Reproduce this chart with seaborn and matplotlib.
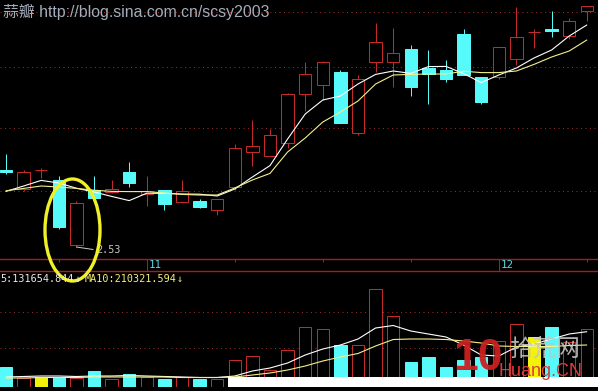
import numpy as np
import pandas as pd
import matplotlib
matplotlib.use("Agg")
import matplotlib.pyplot as plt
from matplotlib.patches import Ellipse, Rectangle
import seaborn as sns

# ---------------- data ----------------
opens = [2.915, 2.82, 2.915, 2.865, 2.54, 2.815, 2.805, 2.905, 2.795, 2.815,
         2.755, 2.76, 2.715, 2.83, 3.005, 2.985, 3.05, 3.295, 3.34, 3.405,
         3.10, 3.455, 3.455, 3.52, 3.425, 3.415, 3.595, 3.38, 3.38, 3.47,
         3.605, 3.62, 3.585, 3.71]
closes = [2.905, 2.905, 2.915, 2.63, 2.75, 2.775, 2.82, 2.85, 2.81, 2.745,
          2.81, 2.73, 2.77, 3.025, 3.035, 3.09, 3.295, 3.395, 3.455, 3.15,
          3.37, 3.555, 3.50, 3.33, 3.395, 3.37, 3.39, 3.255, 3.53, 3.58,
          3.605, 3.61, 3.66, 3.735]
highs = [2.995, 2.915, 2.925, 2.885, 2.76, 2.885, 2.865, 2.955, 2.885, 2.815,
         2.865, 2.77, 2.77, 3.045, 3.165, 3.12, 3.30, 3.455, 3.46, 3.415,
         3.39, 3.65, 3.625, 3.54, 3.515, 3.465, 3.62, 3.38, 3.53, 3.73,
         3.62, 3.71, 3.675, 3.735]
lows = [2.895, 2.81, 2.875, 2.62, 2.53, 2.775, 2.80, 2.83, 2.735, 2.715,
        2.755, 2.725, 2.69, 2.815, 2.935, 2.985, 3.025, 3.21, 3.265, 3.15,
        3.09, 3.405, 3.33, 3.285, 3.245, 3.355, 3.39, 3.245, 3.37, 3.44,
        3.525, 3.58, 3.57, 3.66]
ma5 = [2.808, 2.835, 2.863, 2.85, 2.824, 2.805, 2.783, 2.762, 2.799, 2.798,
       2.795, 2.794, 2.785, 2.82, 2.88, 2.937, 3.07, 3.195, 3.265, 3.285,
       3.345, 3.393, 3.41, 3.398, 3.432, 3.433, 3.397, 3.352, 3.39, 3.425,
       3.475, 3.515, 3.585, 3.64]
ma10 = [2.811, 2.823, 2.835, 2.83, 2.823, 2.814, 2.808, 2.807, 2.807, 2.80,
        2.793, 2.79, 2.79, 2.825, 2.865, 2.898, 3.005, 3.075, 3.155, 3.205,
        3.26, 3.345, 3.39, 3.393, 3.395, 3.395, 3.409, 3.402, 3.402, 3.41,
        3.443, 3.48, 3.51, 3.565]
volumes = [101500, 46500, 48500, 48500, 43500, 80000, 40000, 65000, 48500, 40000,
           51500, 40000, 40000, 133500, 153500, 85000, 185000, 302500, 288500, 210000,
           210000, 488500, 355000, 126500, 148500, 98500, 135000, 150000, 230000, 315000,
           251500, 301500, 225000, 288500]
vol_ma5 = [50000, 52500, 55000, 55000, 52500, 55000, 55000, 57500, 55000, 52500,
           50000, 47500, 47500, 55000, 80000, 95000, 120000, 160000, 190000, 210000,
           240000, 295000, 307500, 280000, 265000, 250000, 210000, 160000, 155000, 200000,
           215000, 240000, 265000, 276500]
vol_ma10 = [45000, 45000, 47500, 47500, 47500, 50000, 50000, 50000, 50000, 50000,
            47500, 47500, 47500, 50000, 60000, 70000, 85000, 105000, 130000, 150000,
            167500, 205000, 237500, 240000, 240000, 237500, 230000, 220000, 205000, 202500,
            202500, 202500, 207500, 210000]
month_tick_idx = [8, 28]
month_labels = ["11", "12"]
minor_tick_idx = [3, 13, 18, 23, 33]
price_grid = [3.7065, 3.428, 3.124, 2.811]
vol_grid = [377500, 193500]
title_text = "蒜瓣 http://blog.sina.com.cn/scsy2003"
vol_header_ma5 = "5:131654.844"
vol_header_ma10 = "MA10:210321.594"

# ---------------- style ----------------
sns.set_theme(style="dark", rc={"axes.facecolor": "black", "figure.facecolor": "black",
                                "savefig.facecolor": "black"})
plt.rcParams['font.family'] = ['DejaVu Sans', 'Noto Sans CJK SC']

RED = "#c42a2a"
CYAN = "#56fafa"
YEL = "#f2f20a"
BAND = "#a81c1c"
GRID = "#9a2a2a"
MA5C = "#ffffff"
MA10C = "#f4f08a"
PX = 0.72  # one pixel in points

W, H = 598, 391
fig = plt.figure(figsize=(W / 100, H / 100), dpi=100)
fig.patch.set_facecolor("black")

def frac(top, bottom):
    return [0, (H - bottom) / H, 1, (bottom - top) / H]

ax = fig.add_axes(frac(0, 258.5))
axv = fig.add_axes(frac(271, 387), sharex=ax)
axd = fig.add_axes(frac(258.5, 271), sharex=ax)
axd.set_zorder(5)
axd.patch.set_alpha(0)

idx = np.arange(len(opens))
df = pd.DataFrame({"i": idx, "open": opens, "close": closes, "high": highs, "low": lows,
                   "ma5": ma5, "ma10": ma10, "vol": volumes,
                   "vma5": vol_ma5, "vma10": vol_ma10})

for a in (ax, axd, axv):
    a.set_xticks([]); a.set_yticks([])
    for s in a.spines.values():
        s.set_visible(False)
    a.grid(False)
ax.set_facecolor("black"); axv.set_facecolor("black")

ax.set_xlim(-6 / 17.6, 592 / 17.6)
ax.set_ylim(3.765 - 258.5 * 0.005, 3.765)
axv.set_ylim(0, 116 * 5000)
axd.set_ylim(0, 1)

# grid
for g in price_grid:
    ax.axhline(g, color=GRID, lw=PX, ls=(0, (1, 3.5)), zorder=0)
for g in vol_grid:
    axv.axhline(g, color=GRID, lw=PX, ls=(0, (1, 3.5)), zorder=0)

# candles
bw = 0.7
for r in df.itertuples():
    if r.close > r.open:
        ax.vlines(r.i, r.close, r.high, color=RED, lw=PX, zorder=2)
        ax.vlines(r.i, r.low, r.open, color=RED, lw=PX, zorder=2)
        ax.bar(r.i, r.close - r.open, bottom=r.open, width=bw, facecolor="black",
               edgecolor=RED, lw=PX, zorder=3)
    elif r.close < r.open:
        ax.vlines(r.i, r.low, r.high, color=CYAN, lw=PX, zorder=2)
        ax.bar(r.i, r.close - r.open, bottom=r.open, width=bw, facecolor=CYAN,
               edgecolor=CYAN, lw=PX, zorder=3)
    else:
        ax.vlines(r.i, r.low, r.high, color=RED, lw=PX, zorder=2)
        ax.hlines(r.open, r.i - bw / 2, r.i + bw / 2, color=RED, lw=PX, zorder=3)

sns.lineplot(data=df, x="i", y="ma5", ax=ax, color=MA5C, lw=0.8, legend=False, zorder=4)
sns.lineplot(data=df, x="i", y="ma10", ax=ax, color=MA10C, lw=0.8, legend=False, zorder=4)

# lowest price label
imin = int(np.argmin(lows))
ax.annotate(f"{lows[imin]:.2f}", xy=(imin, lows[imin]), xytext=(20, -3),
            textcoords="offset pixels", color="#c8c8c8", fontsize=7.3,
            family=["DejaVu Sans Mono", "DejaVu Sans"], va="center", ha="left",
            arrowprops=dict(arrowstyle="-", color="#c8c8c8", lw=PX, shrinkA=0,
                            shrinkB=0, relpos=(0, 0.5)), zorder=5)

# volume
vcolors, vfaces = [], []
for o, c in zip(opens, closes):
    if c > o:
        vcolors.append(RED); vfaces.append("black")
    elif c < o:
        vcolors.append(CYAN); vfaces.append(CYAN)
    else:
        vcolors.append(YEL); vfaces.append(YEL)
axv.bar(idx, volumes, width=bw, color=vfaces, edgecolor=vcolors, lw=PX, zorder=2)
sns.lineplot(data=df, x="i", y="vma5", ax=axv, color=MA5C, lw=0.8, legend=False, zorder=4)
sns.lineplot(data=df, x="i", y="vma10", ax=axv, color=MA10C, lw=0.8, legend=False, zorder=4)

# date band
for side in ("top", "bottom"):
    axd.spines[side].set_visible(True)
    axd.spines[side].set_color(BAND)
    axd.spines[side].set_linewidth(1.0)
axd.vlines(minor_tick_idx, 1 - 3 / 12.5, 1, color=BAND, lw=PX)
axd.vlines(month_tick_idx, 0, 1, color=BAND, lw=PX)
for t, lab in zip(month_tick_idx, month_labels):
    axd.text(t + 0.13, 0.45, lab, color="#5ad8e0", fontsize=7.8,
             family=["DejaVu Sans Mono", "DejaVu Sans"], va="center", ha="left")

for a in (ax, axd, axv):
    a.set_xlabel(""); a.set_ylabel("")
    a.set_xticks([]); a.set_yticks([])

# ---------------- overlay (pixel coordinates) ----------------
ov = fig.add_axes([0, 0, 1, 1], zorder=10)
ov.set_xlim(0, W); ov.set_ylim(H, 0)
ov.axis("off"); ov.patch.set_alpha(0)

ov.text(3, 16.5, title_text, color="#a4acba", fontsize=11.4, va="baseline", ha="left",
        family=["Liberation Sans", "Noto Sans CJK SC"])

mono = ["DejaVu Sans Mono", "DejaVu Sans"]
ov.text(0, 279.5, vol_header_ma5, color="#e8e8e8", fontsize=7.3, family=mono, va="center")
ov.text(75, 279.5, "↓", color="#e8e8e8", fontsize=7.3, family=mono, va="center")
ov.text(85, 279.5, vol_header_ma10, color="#f4f07a", fontsize=7.3, family=mono, va="center")
ov.text(177, 279.5, "↓", color="#f4f07a", fontsize=7.3, family=mono, va="center")

ov.add_patch(Ellipse((72.5, 230), 55, 102, fill=False, edgecolor="#f0f028", lw=2.4))

ov.add_patch(Rectangle((228, 377), W - 228, 9.5, facecolor="white", edgecolor="none"))

ov.text(478, 359, "10", color="#cc2020", fontsize=32, fontweight="bold", ha="center",
        va="center", family=["Liberation Sans"], alpha=0.95)
ov.text(544, 350, "拾荒网", color="#c4c4c4", fontsize=17, ha="center", va="center",
        family=["Noto Sans CJK SC"], alpha=0.9)
ov.text(541, 372, "Huang.CN", color="#e03a3a", fontsize=13, ha="center", va="center",
        family=["Liberation Sans"])

fig.savefig("out.png", dpi=100, facecolor="black")
